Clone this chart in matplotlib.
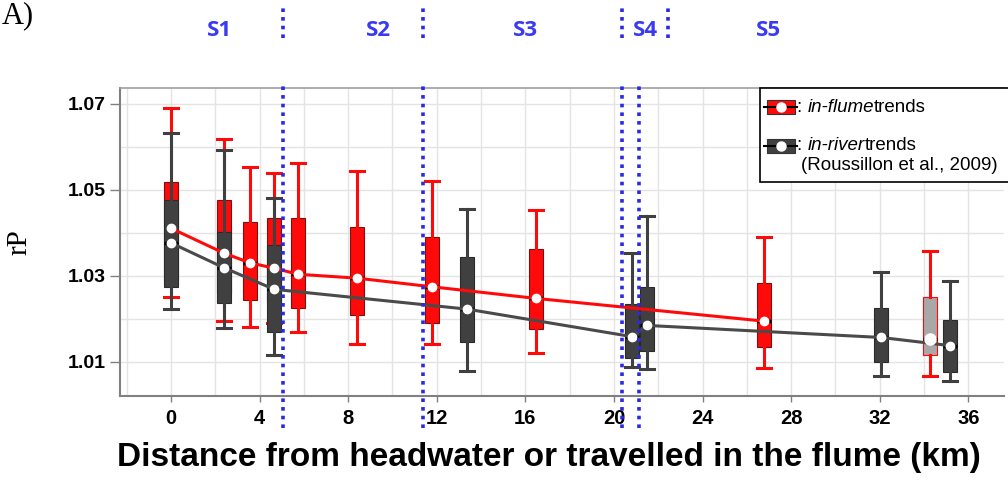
import matplotlib
matplotlib.use("Agg")
import matplotlib.pyplot as plt
from matplotlib.patches import Rectangle
from matplotlib.lines import Line2D

# ---------------- data ----------------
flume_km = [0, 2.4, 3.55, 4.66, 5.75, 8.4, 11.77, 16.46, 26.78]
flume_whi = [1.0690, 1.0619, 1.0553, 1.0539, 1.0563, 1.0545, 1.0522, 1.0453, 1.0391]
flume_q3 = [1.0519, 1.0477, 1.0426, 1.0434, 1.0434, 1.0413, 1.0391, 1.0362, 1.0284]
flume_mid = [1.0411, 1.0353, 1.0331, 1.0318, 1.0304, 1.0295, 1.0275, 1.0248, 1.0195]
flume_q1 = [1.0290, 1.0260, 1.0243, 1.0240, 1.0225, 1.0209, 1.0190, 1.0176, 1.0136]
flume_wlo = [1.0252, 1.0195, 1.0182, 1.0190, 1.0170, 1.0142, 1.0142, 1.0120, 1.0085]

river_km = [0, 2.4, 4.66, 13.36, 20.81, 21.5, 32.07, 35.19]
river_whi = [1.0632, 1.0593, 1.0481, 1.0456, 1.0354, 1.0440, 1.0309, 1.0289]
river_q3 = [1.0477, 1.0403, 1.0372, 1.0344, 1.0236, 1.0275, 1.0225, 1.0198]
river_mid = [1.0377, 1.0319, 1.0269, 1.0223, 1.0159, 1.0185, 1.0157, 1.0138]
river_q1 = [1.0275, 1.0237, 1.0170, 1.0146, 1.0110, 1.0126, 1.0099, 1.0077]
river_wlo = [1.0223, 1.0178, 1.0116, 1.0079, 1.0089, 1.0083, 1.0067, 1.0056]

extra_km = [34.26]
extra_whi = [1.0359]
extra_q3 = [1.0252]
extra_mid = [1.0153]
extra_q1 = [1.0116]
extra_wlo = [1.0067]

section_km = [5.06, 11.38, 20.36, 21.13]
top_marks_km = [5.06, 11.38, 20.36, 22.44]
section_names = ["S1", "S2", "S3", "S4", "S5"]
section_label_km = [2.2, 9.35, 16.0, 21.44, 27.0]

xtick_vals = [0, 4, 8, 12, 16, 20, 24, 28, 32, 36]
ytick_vals = [1.01, 1.03, 1.05, 1.07]

# ---------------- style ----------------
W, H = 1008, 482
RED = "#ff0a0a"
DARK = "#404040"
BLUE = "#2a2ae6"
LBLUE = "#3a3af0"

fig = plt.figure(figsize=(W / 100, H / 100), dpi=100)
ax = fig.add_axes([120 / W, 86 / H, 884 / W, 308 / H])
ax.set_xlim(-2.30, 37.61)
ax.set_ylim(1.00209, 1.07372)

# grid
ax.set_xticks(xtick_vals)
ax.set_xticks(list(range(-2, 38, 2)), minor=True)
ax.set_yticks(ytick_vals)
ax.set_yticks([1.02, 1.04, 1.06], minor=True)
ax.grid(True, which="both", color="#e4e4e4", lw=1.0, zorder=0)
ax.set_axisbelow(True)
ax.tick_params(axis="both", which="minor", length=0)
ax.tick_params(axis="x", which="major", length=4, color="#808080", width=1, pad=5)
ax.tick_params(axis="y", which="major", length=7, color="#808080", width=1, pad=3)
ax.set_xticklabels([str(v) for v in xtick_vals], fontsize=14.5, fontweight="bold",
                   family="Liberation Sans")
ax.set_yticklabels([f"{v:.2f}" for v in ytick_vals], fontsize=14, fontweight="bold",
                   family="Liberation Sans")
for s in ["left", "bottom"]:
    ax.spines[s].set_color("#808080")
    ax.spines[s].set_linewidth(1.5)
ax.spines["top"].set_color("#a0a0a0")
ax.spines["top"].set_linewidth(1.2)
ax.spines["right"].set_visible(False)

ax.set_xlabel("Distance from headwater or travelled in the flume (km)", fontsize=24,
              fontweight="bold", family="Liberation Sans")
ax.xaxis.set_label_coords(0.4847, -0.150)
ax.set_ylabel("rP", fontsize=21, family="Liberation Serif", labelpad=26)


def stats(km, whi, q3, mid, q1, wlo):
    out = []
    for i in range(len(km)):
        out.append(dict(med=mid[i], q1=q1[i], q3=q3[i], whislo=wlo[i], whishi=whi[i],
                        fliers=[]))
    return out


BW = 0.63


def draw_boxes(km, whi, q3, mid, q1, wlo, face, edge, wcol, z):
    ax.bxp(stats(km, whi, q3, mid, q1, wlo), positions=km, widths=BW,
           patch_artist=True, showfliers=False, manage_ticks=False,
           boxprops=dict(facecolor=face, edgecolor=edge, lw=0.8),
           whiskerprops=dict(color=wcol, lw=2.2),
           capprops=dict(color=wcol, lw=2.2),
           capwidths=BW,
           medianprops=dict(color="black", lw=2.5),
           zorder=z)


draw_boxes(flume_km, flume_whi, flume_q3, flume_mid, flume_q1, flume_wlo,
           RED, "#7a1010", RED, 3)
draw_boxes(extra_km, extra_whi, extra_q3, extra_mid, extra_q1, extra_wlo,
           "#a8a8a8", RED, RED, 3)
draw_boxes(river_km, river_whi, river_q3, river_mid, river_q1, river_wlo,
           DARK, "#2a2a2a", DARK, 4)

# trend lines
ax.plot(flume_km, flume_mid, color=RED, lw=2.2, zorder=6)
ax.plot(river_km, river_mid, color="#4a4a4a", lw=2.2, zorder=6)
# white points
ax.plot(flume_km, flume_mid, ls="none", marker="o", ms=6, mfc="white", mec="white", zorder=7)
ax.plot(river_km, river_mid, ls="none", marker="o", ms=6, mfc="white", mec="white", zorder=7)
ax.plot(extra_km, extra_mid, ls="none", marker="o", ms=8, mfc="white", mec="white", zorder=7)

# section lines (dotted blue), extending above and below the axes
ax.vlines(section_km, 0.99465, 1.0751, colors=BLUE, lw=2.6, linestyles=(0, (1, 1.4)),
          clip_on=False, zorder=8)
ax.vlines(top_marks_km, 1.0853, 1.0930, colors=BLUE, lw=2.6, linestyles=(0, (1, 1.4)),
          clip_on=False, zorder=8)
for name, k in zip(section_names, section_label_km):
    ax.text(k, 1.0872, name, color=LBLUE, fontsize=16, fontweight="bold",
            family="Open Sans", ha="center", va="center", clip_on=False)

# panel letter
fig.text(2 / W, 1 - 16 / H, "A)", fontsize=22, family="Liberation Serif",
         ha="left", va="center")

# ---------------- legend (drawn manually) ----------------
def fx(px):
    return px / W


def fy(py):
    return 1 - py / H


fig.add_artist(Rectangle((fx(760), fy(182)), fx(1010) - fx(760), fy(88) - fy(182),
                         transform=fig.transFigure, facecolor="white", edgecolor="black",
                         lw=1.2, zorder=20))


def legend_icon(yc, color):
    fig.add_artist(Rectangle((fx(767), fy(yc + 7)), fx(795) - fx(767), fy(yc - 7) - fy(yc + 7),
                             transform=fig.transFigure, facecolor=color,
                             edgecolor="#333333", lw=0.8, zorder=21))
    fig.add_artist(Line2D([fx(764), fx(797)], [fy(yc), fy(yc)], transform=fig.transFigure,
                          color="black", lw=1.5, zorder=22))
    fig.add_artist(Line2D([fx(781)], [fy(yc)], transform=fig.transFigure, marker="o",
                          ms=6.5, mfc="white", mec="white", ls="none", zorder=23))


legend_icon(107, RED)
legend_icon(146, DARK)

fig.canvas.draw()
renderer = fig.canvas.get_renderer()

LFS = 13.5


def rich_text(x_px, y_px, parts):
    x = fx(x_px)
    for txt, style in parts:
        t = fig.text(x, fy(y_px), txt, fontsize=LFS, family="Liberation Sans", style=style,
                     ha="left", va="center", zorder=24)
        bb = t.get_window_extent(renderer=renderer)
        x += bb.width / W


rich_text(797, 107, [(": ", "normal"), ("in-flume", "italic"), ("trends", "normal")])
rich_text(797, 145, [(": ", "normal"), ("in-river", "italic"), ("trends", "normal")])
fig.text(fx(801), fy(165), "(Roussillon et al., 2009)", fontsize=LFS,
         family="Liberation Sans", ha="left", va="center", zorder=24)

fig.savefig("out.png", dpi=100)
